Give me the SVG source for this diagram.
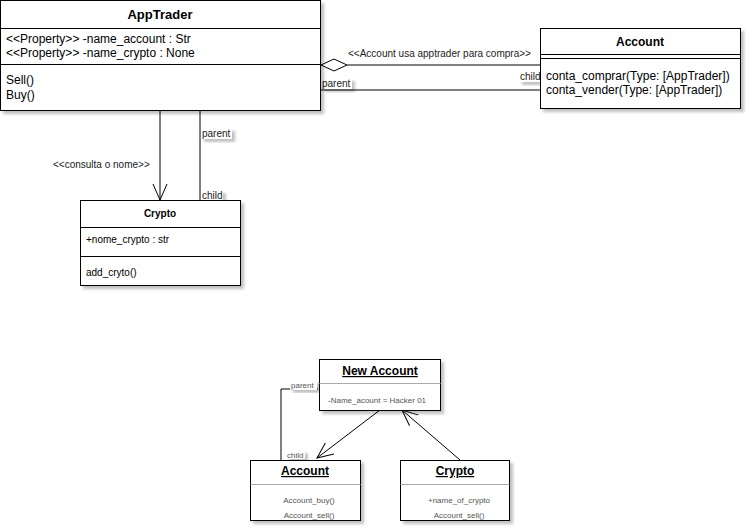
<svg xmlns="http://www.w3.org/2000/svg" width="752" height="532" viewBox="0 0 752 532">
<defs>
<filter id="sh" x="-10%" y="-10%" width="130%" height="140%">
<feGaussianBlur in="SourceAlpha" stdDeviation="1.5"/>
<feOffset dx="3" dy="3" result="b"/>
<feComponentTransfer><feFuncA type="linear" slope="0.25"/></feComponentTransfer>
<feMerge><feMergeNode/><feMergeNode in="SourceGraphic"/></feMerge>
</filter>
<marker id="open" markerUnits="userSpaceOnUse" markerWidth="20" markerHeight="20" refX="16" refY="8" orient="auto">
<path d="M0,1 L16,8 L0,15" fill="none" stroke="#000" stroke-width="1"/>
</marker>
</defs>
<style>
text{font-family:"Liberation Sans",Arial,sans-serif;fill:#000}
.box{fill:#fff;stroke:#000;stroke-width:1}
.ln{stroke:#000;stroke-width:1;fill:none}
.t{font-weight:bold}
.lbl{font-size:10px;fill:#222}
.lblbg{fill:#fff}
</style>
<rect width="752" height="532" fill="#fff"/>

<g id="connectors">
<path class="ln" d="M347,65 H540"/>
<path d="M321,65 L334,59 L347,65 L334,71 Z" fill="#fff" stroke="#000"/>
<text class="lbl" x="348" y="57">&lt;&lt;Account usa apptrader para compra&gt;&gt;</text>
<path class="ln" d="M321,90 H540"/>
<g filter="url(#sh)"><rect class="lblbg" x="322" y="78" width="30" height="11"/></g>
<text class="lbl" x="322" y="87">parent</text>
<g filter="url(#sh)"><rect class="lblbg" x="519" y="71" width="21" height="11"/></g>
<text class="lbl" x="520" y="80">child</text>

<path class="ln" d="M160,110 V200" marker-end="url(#open)"/>
<text class="lbl" x="53" y="168">&lt;&lt;consulta o nome&gt;&gt;</text>
<path class="ln" d="M200,110 V200"/>
<g filter="url(#sh)"><rect class="lblbg" x="201" y="128" width="31" height="11"/></g>
<text class="lbl" x="202" y="137">parent</text>
<g filter="url(#sh)"><rect class="lblbg" x="201" y="190" width="22" height="10"/></g>
<text class="lbl" x="202" y="199">child</text>

<path class="ln" d="M380,410 L317,458" marker-end="url(#open)"/>
<path class="ln" d="M460,460 L402,410" marker-end="url(#open)"/>
<path class="ln" d="M281,460 V389 H318"/>
<g filter="url(#sh)"><rect class="lblbg" x="290" y="380" width="27" height="10"/></g>
<text class="lbl" x="291" y="388" style="fill:#555;font-size:8px">parent</text>
<g filter="url(#sh)"><rect class="lblbg" x="286" y="450" width="19" height="9"/></g>
<text class="lbl" x="287" y="458" style="fill:#555;font-size:8px">child</text>
</g>

<g id="apptrader">
<rect class="box" x="0.5" y="0.5" width="320" height="110" filter="url(#sh)"/>
<line class="ln" x1="0.5" y1="28.5" x2="320.5" y2="28.5"/>
<line class="ln" x1="0.5" y1="64.5" x2="320.5" y2="64.5"/>
<text class="t" x="160" y="19" text-anchor="middle" font-size="13">AppTrader</text>
<text x="6" y="43" font-size="12">&lt;&lt;Property&gt;&gt; -name_account : Str</text>
<text x="6" y="57" font-size="12">&lt;&lt;Property&gt;&gt; -name_crypto : None</text>
<text x="6" y="84" font-size="12">Sell()</text>
<text x="6" y="99" font-size="12">Buy()</text>
</g>

<g id="account">
<rect class="box" x="540.5" y="28.5" width="200" height="80" filter="url(#sh)"/>
<line class="ln" x1="540.5" y1="54.5" x2="740.5" y2="54.5"/>
<line class="ln" x1="540.5" y1="58.5" x2="740.5" y2="58.5"/>
<text class="t" x="640" y="46" text-anchor="middle" font-size="12">Account</text>
<text x="546" y="80" font-size="12">conta_comprar(Type: [AppTrader])</text>
<text x="546" y="94" font-size="12">conta_vender(Type: [AppTrader])</text>
</g>

<g id="crypto">
<rect class="box" x="80.5" y="200.5" width="160" height="85" filter="url(#sh)"/>
<line class="ln" x1="80.5" y1="227.5" x2="240.5" y2="227.5"/>
<line class="ln" x1="80.5" y1="256.5" x2="240.5" y2="256.5"/>
<text class="t" x="160" y="217" text-anchor="middle" font-size="10">Crypto</text>
<text x="86" y="243" font-size="10">+nome_crypto : str</text>
<text x="86" y="276" font-size="10">add_cryto()</text>
</g>

<g id="new-account">
<rect class="box" x="319.5" y="359.5" width="121" height="51" filter="url(#sh)"/>
<line x1="319.5" y1="383.5" x2="440.5" y2="383.5" stroke="#aaa"/>
<text class="t" x="380" y="375" text-anchor="middle" font-size="12" text-decoration="underline">New Account</text>
<text x="328" y="403" font-size="8" style="fill:#555">-Name_acount = Hacker 01</text>
</g>

<g id="account-obj">
<rect class="box" x="250.5" y="460.5" width="110" height="60" filter="url(#sh)"/>
<line x1="250.5" y1="484.5" x2="360.5" y2="484.5" stroke="#aaa"/>
<text class="t" x="305" y="475" text-anchor="middle" font-size="12" text-decoration="underline">Account</text>
<text x="309" y="503" text-anchor="middle" font-size="8" style="fill:#555">Account_buy()</text>
<text x="309" y="518" text-anchor="middle" font-size="8" style="fill:#555">Account_sell()</text>
</g>

<g id="crypto-obj">
<rect class="box" x="400.5" y="460.5" width="109" height="60" filter="url(#sh)"/>
<line x1="400.5" y1="484.5" x2="509.5" y2="484.5" stroke="#aaa"/>
<text class="t" x="455" y="475" text-anchor="middle" font-size="12" text-decoration="underline">Crypto</text>
<text x="459" y="503" text-anchor="middle" font-size="8" style="fill:#555">+name_of_crypto</text>
<text x="459" y="518" text-anchor="middle" font-size="8" style="fill:#555">Account_sell()</text>
</g>
</svg>
